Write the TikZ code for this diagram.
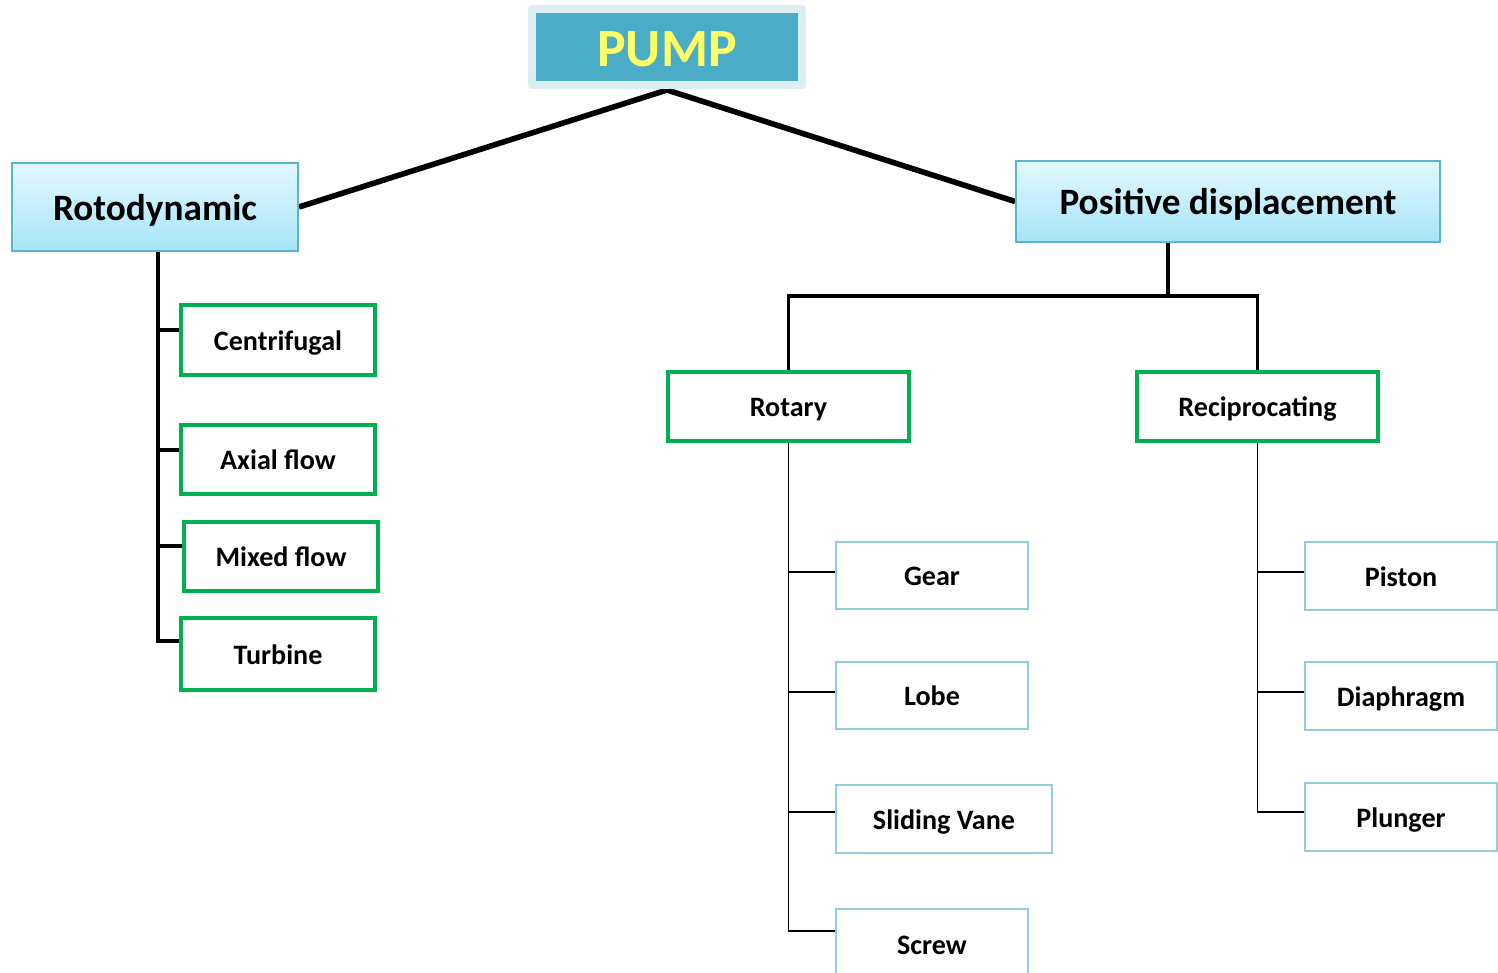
\documentclass[tikz,border=0pt]{standalone}
\usepackage{fontspec}
\setmainfont{Carlito}
\usetikzlibrary{backgrounds,calc}
\definecolor{pumpfill}{HTML}{4BACC6}
\definecolor{pumpedge}{HTML}{DAEEF3}
\definecolor{pumptext}{HTML}{FFFF66}
\definecolor{gradtop}{HTML}{E3F8FE}
\definecolor{gradbot}{HTML}{A6E5F9}
\definecolor{catedge}{HTML}{58B6D0}
\definecolor{grn}{HTML}{00B050}
\definecolor{leafedge}{HTML}{92CDDC}
\tikzset{
  pumpbox/.style={fill=pumpfill, draw=pumpedge, line width=0.16cm, line join=round,
    inner sep=0pt, text=pumptext, text height=24.5pt, text depth=2.5pt,
    font=\fontsize{30.6}{36}\selectfont\bfseries},
  catbox/.style={top color=gradtop, bottom color=gradbot, draw=catedge, line width=0.04cm,
    inner sep=0pt, text height=17pt, text depth=1.7pt,
    font=\fontsize{21.2}{25}\selectfont\bfseries},
  grnbox/.style={fill=white, draw=grn, line width=0.08cm, inner sep=0pt,
    text height=12.8pt, text depth=1.3pt,
    font=\fontsize{16}{19}\selectfont\bfseries},
  leafbox/.style={fill=white, draw=leafedge, line width=0.04cm, inner sep=0pt,
    text height=12.8pt, text depth=1.3pt,
    font=\fontsize{16}{19}\selectfont\bfseries},
  mainline/.style={line width=3.2pt, black},
  midline/.style={line width=2.2pt, black},
  thinline/.style={line width=1.1pt, black},
}
\begin{document}
\begin{tikzpicture}[x=0.02cm,y=-0.02cm]
\useasboundingbox (0,0) rectangle (1498,973);
\begin{scope}[on background layer]
\fill[white] (0,0) rectangle (1498,973);
\end{scope}
\clip (0,0) rectangle (1498,973);

% nodes
\node[pumpbox, minimum width=5.4cm, minimum height=1.52cm] (pump) at (667,47) {PUMP};
\node[catbox, minimum width=5.72cm, minimum height=1.76cm] (roto) at (155,207) {Rotodynamic};
\node[catbox, minimum width=8.48cm, minimum height=1.62cm] (posd) at (1228,201.5) {Positive displacement};

\node[grnbox, minimum width=3.88cm, minimum height=1.40cm] (centrifugal) at (278,340) {Centrifugal};
\node[grnbox, minimum width=3.88cm, minimum height=1.38cm] (axial) at (278,459.5) {Axial flow};
\node[grnbox, minimum width=3.88cm, minimum height=1.38cm] (mixed) at (281,556.5) {Mixed flow};
\node[grnbox, minimum width=3.88cm, minimum height=1.44cm] (turbine) at (278,654) {Turbine};

\node[grnbox, minimum width=4.82cm, minimum height=1.38cm] (rotary) at (788.5,406.5) {Rotary};
\node[grnbox, minimum width=4.82cm, minimum height=1.38cm] (recip) at (1257.5,406.5) {Reciprocating};

\node[leafbox, minimum width=3.84cm, minimum height=1.34cm] (gear) at (932,575.5) {Gear};
\node[leafbox, minimum width=3.84cm, minimum height=1.34cm] (lobe) at (932,695.5) {Lobe};
\node[leafbox, minimum width=4.32cm, minimum height=1.36cm] (vane) at (944,819) {Sliding Vane};
\node[leafbox, minimum width=3.84cm, minimum height=1.40cm] (screw) at (932,944) {Screw};

\node[leafbox, minimum width=3.84cm, minimum height=1.36cm] (piston) at (1401,576) {Piston};
\node[leafbox, minimum width=3.84cm, minimum height=1.36cm] (diaphragm) at (1401,696) {Diaphragm};
\node[leafbox, minimum width=3.84cm, minimum height=1.36cm] (plunger) at (1401,817) {Plunger};

\coordinate (rdx) at (158,0);
\coordinate (pdx) at (1168,296);

% connectors
\begin{scope}[on background layer]
\draw[mainline] (roto.east) -- ($(pump.south)+(0,1)$) -- (posd.west);
\draw[midline] (roto.south -| rdx) |- ($(turbine.west)+(0,-13)$);
\foreach \n/\d in {centrifugal/10,axial/9.5,mixed/10.5}
  \draw[midline] ($(rdx |- \n.west)+(0,-\d)$) -- ($(\n.west)+(0,-\d)$);
\draw[midline] (posd.south -| pdx) -- (pdx);
\draw[midline] (rotary.north) |- (pdx) -| (recip.north);
\draw[thinline] (rotary.south) |- ($(screw.west)+(0,-13)$);
\foreach \n/\d in {gear/3.5,lobe/3.5,vane/7}
  \draw[thinline] ($(rotary.south |- \n.west)+(0,-\d)$) -- ($(\n.west)+(0,-\d)$);
\draw[thinline] (recip.south) |- ($(plunger.west)+(0,-5)$);
\foreach \n/\d in {piston/4,diaphragm/4}
  \draw[thinline] ($(recip.south |- \n.west)+(0,-\d)$) -- ($(\n.west)+(0,-\d)$);
\end{scope}
\end{tikzpicture}
\end{document}
